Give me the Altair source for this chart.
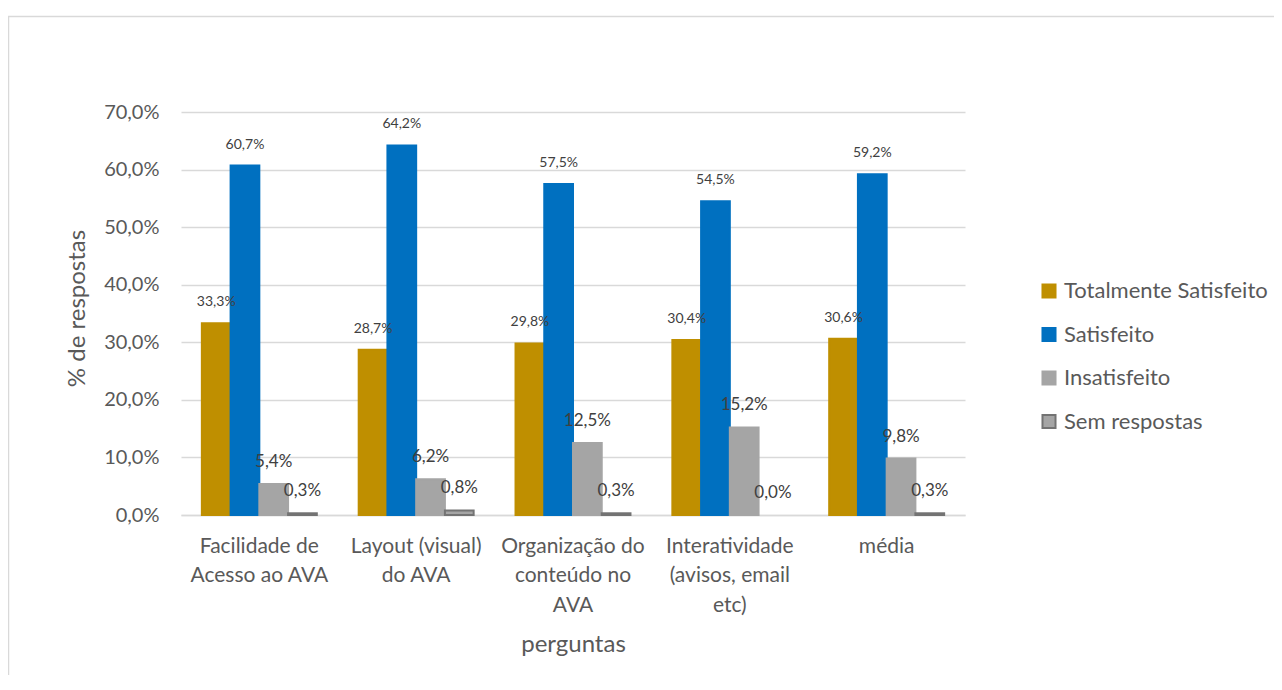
import altair as alt
import pandas as pd

categorias = ["Facilidade de\nAcesso ao AVA", "Layout (visual)\ndo AVA",
              "Organização do\nconteúdo no\nAVA", "Interatividade\n(avisos, email\netc)", "média"]
series = ["Totalmente Satisfeito", "Satisfeito", "Insatisfeito", "Sem respostas"]
totalmente = [33.3, 28.7, 29.8, 30.4, 30.6]
satisfeito = [60.7, 64.2, 57.5, 54.5, 59.2]
insatisfeito = [5.4, 6.2, 12.5, 15.2, 9.8]
sem_resp = [0.3, 0.8, 0.3, 0.0, 0.3]
cores_fill = ["#BF8F00", "#0070C0", "#A5A5A5", "#A5A5A5"]
cores_stroke = ["#BF8F00", "#0070C0", "#A5A5A5", "#737373"]

rows = []
for vals, s in zip([totalmente, satisfeito, insatisfeito, sem_resp], series):
    for c, v in zip(categorias, vals):
        rows.append({"pergunta": c, "serie": s, "valor": v})
df = pd.DataFrame(rows)

FONT = "Lato"
TXT = "#595959"

legend = alt.Legend(title=None, orient="none", legendX=857, legendY=168,
                    symbolType="square", symbolSize=170, symbolStrokeWidth=2,
                    labelFontSize=22, labelFont=FONT, labelColor=TXT, labelLimit=0,
                    rowPadding=21.5, labelOffset=4)

x = alt.X("pergunta:N", sort=categorias,
          scale=alt.Scale(paddingInner=0.267, paddingOuter=0.133),
          axis=alt.Axis(title="perguntas", labelExpr="split(datum.label, '\\n')",
                        labelAngle=0, labelFontSize=21, labelFont=FONT, labelColor=TXT,
                        labelLineHeight=29.5, labelPadding=20, labelBaseline="top",
                        ticks=False, domain=True, domainColor="#d9d9d9", domainWidth=1.5,
                        titleFontSize=24, titleFont=FONT, titleColor=TXT, titleFontWeight="normal",
                        titleY=129, titleBaseline="middle"))
xo = alt.XOffset("serie:N", sort=series, scale=alt.Scale(paddingInner=0, paddingOuter=0))
y = alt.Y("valor:Q", scale=alt.Scale(domain=[0, 70], nice=False),
          axis=alt.Axis(title="% de respostas", values=[0, 10, 20, 30, 40, 50, 60, 70],
                        labelExpr="replace(format(datum.value, '.1f'), '.', ',') + '%'",
                        labelFontSize=20, labelFont=FONT, labelColor=TXT, labelPadding=22,
                        ticks=False, domain=False, grid=True, gridColor="#d9d9d9", gridWidth=1.5,
                        titleFontSize=24, titleFont=FONT, titleColor=TXT, titleFontWeight="normal",
                        titleX=-104, titleY=196, titleAngle=-90, titleAlign="center",
                        titleBaseline="middle"))

base = alt.Chart(df)

bars = base.transform_filter("datum.valor > 0").mark_bar(strokeWidth=2).encode(
    x=x, xOffset=xo, y=y,
    fill=alt.Fill("serie:N", sort=series, scale=alt.Scale(domain=series, range=cores_fill), legend=legend),
    stroke=alt.Stroke("serie:N", sort=series, scale=alt.Scale(domain=series, range=cores_stroke), legend=legend),
)

lab_base = base.transform_calculate(
    rotulo="replace(format(datum.valor, '.1f'), '.', ',') + '%'"
)
lab_enc = dict(x=alt.X("pergunta:N", sort=categorias), xOffset=xo, y=alt.Y("valor:Q"), text="rotulo:N")

labels_small = lab_base.transform_filter(
    "datum.serie == 'Totalmente Satisfeito' || datum.serie == 'Satisfeito'"
).mark_text(font=FONT, color="#404040", baseline="middle", align="center", dy=-21, fontSize=14).encode(**lab_enc)

labels_big = lab_base.transform_filter(
    "datum.serie == 'Insatisfeito' || datum.serie == 'Sem respostas'"
).mark_text(font=FONT, color="#404040", baseline="middle", align="center", dy=-22, fontSize=17).encode(**lab_enc)

frame = alt.Chart(pd.DataFrame({"a": [0]})).mark_rect(
    fillOpacity=0, stroke="#d9d9d9", strokeWidth=1.5
).encode(x=alt.value(-172.5), x2=alt.value(1300), y=alt.value(-95.5), y2=alt.value(800))

chart = alt.layer(frame, bars, labels_small, labels_big).properties(
    width=784, height=403,
    autosize=alt.AutoSizeParams(type="none"),
    padding={"left": 173, "top": 104, "right": 309, "bottom": 160},
    background="white",
).configure_view(stroke=None)

chart.save("out.html", embed_options={"renderer": "svg", "actions": False})
